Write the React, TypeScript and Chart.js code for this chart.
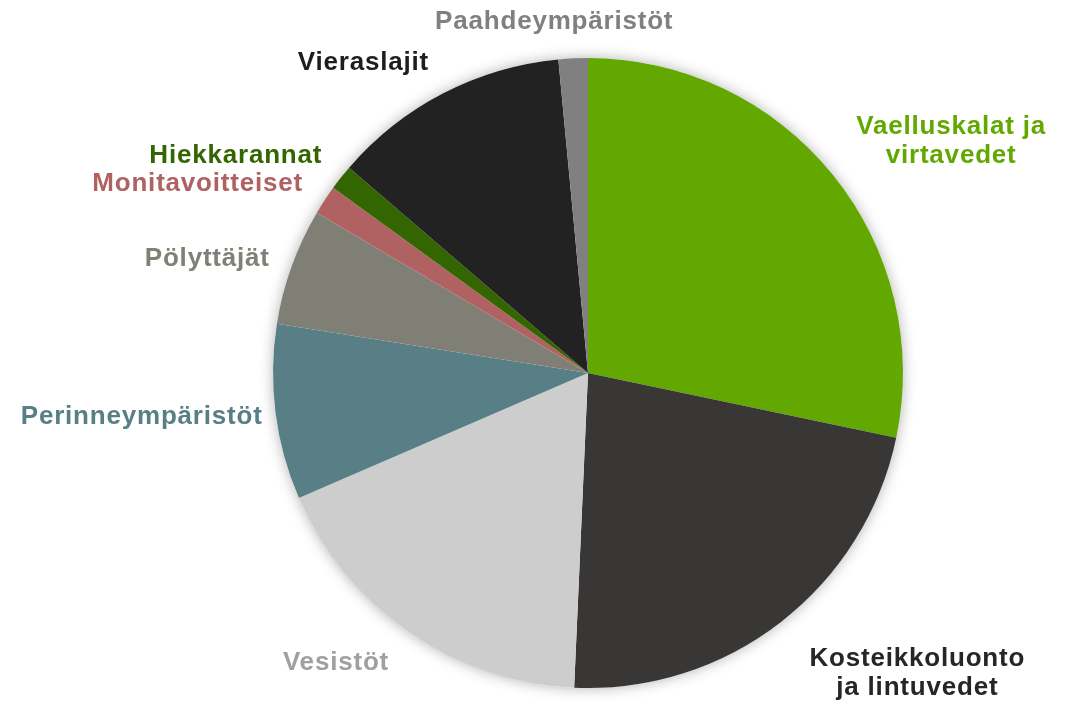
import React, { useEffect, useRef } from "react";
import { Chart, registerables } from "chart.js";

Chart.register(...registerables);

const categories: string[][] = [
  ["Vaelluskalat ja", "virtavedet"],
  ["Kosteikkoluonto", "ja lintuvedet"],
  ["Vesistöt"],
  ["Perinneympäristöt"],
  ["Pölyttäjät"],
  ["Monitavoitteiset"],
  ["Hiekkarannat"],
  ["Vieraslajit"],
  ["Paahdeympäristöt"],
];

const shares: number[] = [28.3, 22.4, 17.8, 9.0, 6.0, 1.5, 1.3, 12.2, 1.5];

const sliceColors: string[] = [
  "#62A800",
  "#383736",
  "#CDCDCD",
  "#577F85",
  "#807F76",
  "#B06262",
  "#336600",
  "#222222",
  "#808080",
];

const labelColors: string[] = [
  "#62A800",
  "#262626",
  "#A0A0A0",
  "#577F85",
  "#808078",
  "#B06262",
  "#336600",
  "#1E1E1E",
  "#808080",
];

// label style: alignment and nudges relative to the slice's outer anchor point
const labelStyle: { align: CanvasTextAlign; dx: number; dy: number }[] = [
  { align: "center", dx: 103, dy: -21 },
  { align: "center", dx: 124, dy: 36 },
  { align: "center", dx: -62, dy: 14 },
  { align: "right", dx: 7, dy: 2 },
  { align: "right", dx: -3, dy: -1 },
  { align: "right", dx: -5, dy: -5 },
  { align: "right", dx: -3, dy: -9 },
  { align: "right", dx: -5, dy: -13 },
  { align: "center", dx: -18, dy: -17 },
];

const shadowPlugin = {
  id: "pieShadow",
  beforeDatasetsDraw(chart: any) {
    const meta = chart.getDatasetMeta(0);
    const arc = meta.data[0];
    if (!arc) return;
    const { x, y, outerRadius } = arc.getProps(["x", "y", "outerRadius"], true);
    const ctx = chart.ctx;
    ctx.save();
    ctx.shadowColor = "rgba(0,0,0,0.3)";
    ctx.shadowBlur = 14;
    ctx.fillStyle = "#ffffff";
    ctx.beginPath();
    ctx.arc(x, y, outerRadius, 0, Math.PI * 2);
    ctx.fill();
    ctx.restore();
  },
};

const labelPlugin = {
  id: "outerLabels",
  afterDatasetsDraw(chart: any) {
    const meta = chart.getDatasetMeta(0);
    const ctx = chart.ctx;
    ctx.save();
    ctx.font = "bold 26px 'Liberation Sans', Arial, sans-serif";
    try {
      (ctx as any).letterSpacing = "0.8px";
    } catch (e) {}
    ctx.textBaseline = "middle";
    const lineH = 29;
    meta.data.forEach((el: any, i: number) => {
      const p = el.getProps(["x", "y", "startAngle", "endAngle", "outerRadius"], true);
      const mid = (p.startAngle + p.endAngle) / 2;
      const R = p.outerRadius + 20;
      const st = labelStyle[i];
      const ax = p.x + Math.cos(mid) * R + st.dx;
      const ay = p.y + Math.sin(mid) * R + st.dy;
      const lines = categories[i];
      ctx.fillStyle = labelColors[i];
      ctx.textAlign = st.align;
      const top = ay - ((lines.length - 1) * lineH) / 2;
      lines.forEach((ln, j) => {
        ctx.fillText(ln, ax, top + j * lineH);
      });
    });
    ctx.restore();
  },
};

export default function App() {
  const ref = useRef<HTMLCanvasElement | null>(null);
  useEffect(() => {
    document.body.style.margin = "0";
    if (!ref.current) return;
    const chart = new Chart(ref.current, {
      type: "pie",
      data: {
        labels: categories.map((c) => c.join(" ")),
        datasets: [
          {
            data: shares,
            backgroundColor: sliceColors,
            borderWidth: 0,
          },
        ],
      },
      options: {
        animation: false,
        responsive: false,
        maintainAspectRatio: false,
        layout: { padding: { left: 200, right: 100, top: 58, bottom: 16 } },
        plugins: {
          legend: { display: false },
          tooltip: { enabled: false },
        },
      },
      plugins: [shadowPlugin, labelPlugin],
    });
    return () => chart.destroy();
  }, []);
  return (
    <div style={{ width: 1076, height: 704, background: "#fff" }}>
      <canvas ref={ref} width={1076} height={704} style={{ display: "block" }} />
    </div>
  );
}
